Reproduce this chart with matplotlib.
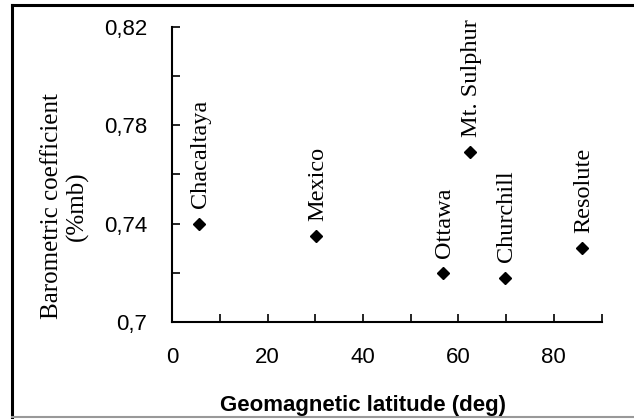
import matplotlib.pyplot as plt
from matplotlib.lines import Line2D
from matplotlib.ticker import MultipleLocator, FixedLocator

# station data
stations = ["Chacaltaya", "Mexico", "Ottawa", "Mt. Sulphur", "Churchill", "Resolute"]
latitude = [5.5, 30.1, 56.7, 62.4, 69.7, 85.8]
coefficient = [0.740, 0.735, 0.720, 0.769, 0.718, 0.730]

x_ticks = [0, 20, 40, 60, 80]
y_ticks = [0.70, 0.74, 0.78, 0.82]
y_tick_labels = ["0,7", "0,74", "0,78", "0,82"]

fig = plt.figure(figsize=(6.34, 4.19), dpi=100)
ax = fig.add_axes([0.2718, 0.2315, 0.677, 0.7041])

ax.plot(latitude, coefficient, linestyle="none", marker="D", markersize=6.5, color="black")

for name, x, y in zip(stations, latitude, coefficient):
    ax.annotate(name, (x, y), xytext=(1.5, 11), textcoords="offset points",
                rotation=90, ha="center", va="bottom",
                family="Liberation Serif", fontsize=17.5)

ax.set_xlim(0, 90)
ax.set_ylim(0.70, 0.82)
ax.xaxis.set_major_locator(FixedLocator(x_ticks))
ax.xaxis.set_minor_locator(MultipleLocator(10))
ax.set_yticks(y_ticks)
ax.set_yticklabels(y_tick_labels)
ax.yaxis.set_minor_locator(MultipleLocator(0.02))

for s in ["top", "right"]:
    ax.spines[s].set_visible(False)
for s in ["left", "bottom"]:
    ax.spines[s].set_linewidth(1.5)

ax.tick_params(axis="both", which="both", direction="in", width=1.2, length=5.5)
ax.tick_params(axis="x", which="major", pad=18)
ax.tick_params(axis="y", which="major", pad=18)
for lbl in ax.get_xticklabels() + ax.get_yticklabels():
    lbl.set_family("Liberation Sans")
    lbl.set_fontsize(16)

fig.text(65 / 634, 0.508, "Barometric coefficient\n(%mb)", rotation=90,
         ha="center", va="center", multialignment="center",
         family="Liberation Serif", fontsize=18)
fig.text(362.5 / 634, 0.033, "Geomagnetic latitude (deg)", ha="center", va="center",
         family="Liberation Sans", fontweight="bold", fontsize=16)

# frame around the figure (top and left black, bottom grey)
fig.add_artist(Line2D([12 / 634, 1], [1 - 5.5 / 419] * 2, color="black", lw=2.2, transform=fig.transFigure))
fig.add_artist(Line2D([12 / 634] * 2, [0, 1 - 5.5 / 419], color="black", lw=2.2, transform=fig.transFigure))
fig.add_artist(Line2D([12 / 634, 1], [2.5 / 419] * 2, color="#999999", lw=1.5, transform=fig.transFigure))

fig.savefig("out.png", dpi=100)
